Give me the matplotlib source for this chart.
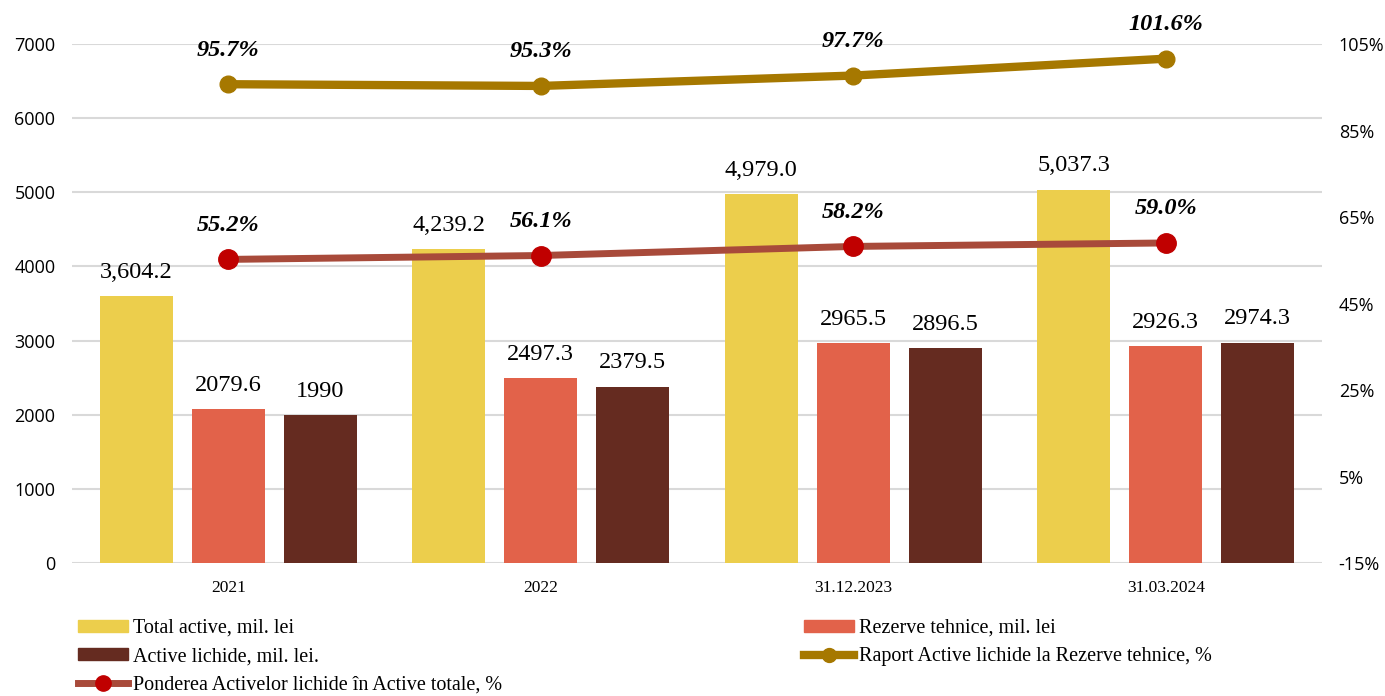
import numpy as np
import matplotlib
matplotlib.use("Agg")
import matplotlib.pyplot as plt
from matplotlib.lines import Line2D
from matplotlib.patches import Patch

# Data
categories = ["2021", "2022", "31.12.2023", "31.03.2024"]
total_active = [3604.2, 4239.2, 4979.0, 5037.3]
rezerve_tehnice = [2079.6, 2497.3, 2965.5, 2926.3]
active_lichide = [1990, 2379.5, 2896.5, 2974.3]
raport = [95.7, 95.3, 97.7, 101.6]
ponderea = [55.2, 56.1, 58.2, 59.0]

total_labels = ["3,604.2", "4,239.2", "4,979.0", "5,037.3"]
rezerve_labels = ["2079.6", "2497.3", "2965.5", "2926.3"]
lichide_labels = ["1990", "2379.5", "2896.5", "2974.3"]

# Colors
c_total = "#ECCE4C"
c_rez = "#E2624A"
c_lich = "#652B20"
c_raport = "#A67800"
c_pond = "#A84A3A"
c_pond_mk = "#C00000"
c_grid = "#D9D9D9"

serif = "Liberation Serif"
sans = "Open Sans"

fig = plt.figure(figsize=(13.85, 6.96), dpi=100)
ax = fig.add_axes([0.052, 0.191, 0.9025, 0.7458])
ax2 = ax.twinx()

x = np.arange(len(categories))
w = 0.234
off = 0.294

b1 = ax.bar(x - off, total_active, w, color=c_total, zorder=2)
b2 = ax.bar(x, rezerve_tehnice, w, color=c_rez, zorder=2)
b3 = ax.bar(x + off, active_lichide, w, color=c_lich, zorder=2)

for bars, labels in [(b1, total_labels), (b2, rezerve_labels), (b3, lichide_labels)]:
    for rect, lab in zip(bars, labels):
        ax.annotate(lab, (rect.get_x() + rect.get_width() / 2, rect.get_height()),
                    xytext=(0, 9.5), textcoords="offset points",
                    ha="center", va="bottom", fontsize=17.5, family=serif,
                    color="black")

ax.set_ylim(0, 7000)
ax.set_yticks(range(0, 7001, 1000))
ax.set_xlim(-0.5, len(categories) - 0.5)
ax.set_xticks(x)
ax.set_xticklabels(categories, fontsize=12.5, family=serif)
ax.yaxis.grid(True, color=c_grid, linewidth=1.5, zorder=0)
ax.set_axisbelow(True)
for lbl in ax.get_yticklabels():
    lbl.set_family(sans)
    lbl.set_fontsize(13)
ax.tick_params(axis="both", length=0)
ax.tick_params(axis="y", pad=12)
ax.tick_params(axis="x", pad=12)

ax2.plot(x, raport, color=c_raport, linewidth=6, marker="o", markersize=12,
         markerfacecolor=c_raport, markeredgecolor=c_raport, zorder=4,
         solid_capstyle="round")
ax2.plot(x, ponderea, color=c_pond, linewidth=5, marker="o", markersize=14,
         markerfacecolor=c_pond_mk, markeredgecolor=c_pond_mk, zorder=4)

for xi, v in zip(x, raport):
    ax2.annotate(f"{v:.1f}%", (xi, v), xytext=(0, 17), textcoords="offset points",
                 ha="center", va="bottom", fontsize=17.5, family=serif,
                 fontweight="bold", fontstyle="italic")
for xi, v in zip(x, ponderea):
    ax2.annotate(f"{v:.1f}%", (xi, v), xytext=(0, 17), textcoords="offset points",
                 ha="center", va="bottom", fontsize=17.5, family=serif,
                 fontweight="bold", fontstyle="italic")

ax2.set_ylim(-15, 105)
ax2.set_yticks(range(-15, 106, 20))
ax2.set_yticklabels([f"{t}%" for t in range(-15, 106, 20)], family=sans, fontsize=13)
ax2.tick_params(axis="y", length=0, pad=12)

for a in (ax, ax2):
    for s in a.spines.values():
        s.set_visible(False)

# Legends
h_total = Patch(color=c_total)
h_lich = Patch(color=c_lich)
h_pond = Line2D([], [], color=c_pond, linewidth=5, marker="o", markersize=11,
                markerfacecolor=c_pond_mk, markeredgecolor=c_pond_mk)
h_rez = Patch(color=c_rez)
h_rap = Line2D([], [], color=c_raport, linewidth=6, marker="o", markersize=10,
               markerfacecolor=c_raport, markeredgecolor=c_raport)

leg_kw = dict(frameon=False, prop={"family": serif, "size": 14.5},
              handlelength=2.5, handleheight=0.5, handletextpad=0.25,
              labelspacing=0.45, borderaxespad=0, borderpad=0)
leg1 = fig.legend([h_total, h_lich, h_pond],
                  ["Total active, mil. lei", "Active lichide, mil. lei.",
                   "Ponderea Activelor lichide în Active totale, %"],
                  loc="upper left", bbox_to_anchor=(78 / 1385, 1 - 619 / 696), **leg_kw)
leg2 = fig.legend([h_rez, h_rap],
                  ["Rezerve tehnice, mil. lei", "Raport Active lichide la Rezerve tehnice, %"],
                  loc="upper left", bbox_to_anchor=(804 / 1385, 1 - 619 / 696), **leg_kw)

fig.savefig("out.png", dpi=100)
